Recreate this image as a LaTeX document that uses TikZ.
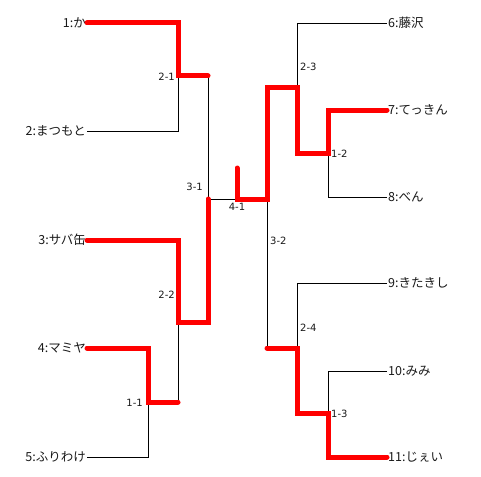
\documentclass[tikz,border=0pt]{standalone}
\usepackage{fontspec}
\setmainfont{Noto Sans CJK JP}
\newfontfamily\numfont{DejaVu Sans}
\usetikzlibrary{calc}

\begin{document}
\begin{tikzpicture}[x=1pt,y=-1pt,
  player/.style={inner sep=1pt,text=black!90,font=\fontsize{12.5}{14}\selectfont},
  round/.style={inner sep=0pt,text=black!90,font=\numfont\fontsize{10}{11}\selectfont},
  bline/.style={line width=0.8pt},
  win/.style={red,line width=5pt,line cap=round}]
  \useasboundingbox (0,0) rectangle (481,476);
  % players
  \foreach \n/\y/\t in {1/23/1:か,2/131/2:まつもと,3/240/3:サバ缶,4/348/4:マミヤ,5/457/5:ふりわけ}
    \node[player,anchor=east] (p\n) at (87,\y) {\t};
  \foreach \n/\y/\t in {6/23/6:藤沢,7/110/7:てっきん,8/197/8:べん,9/283/9:きたきし,10/371/10:みみ,11/457/11:じぇい}
    \node[player,anchor=west] (p\n) at (387,\y) {\t};
  % match points
  \coordinate (m11) at (148,402);
  \coordinate (m21) at (178,76);
  \coordinate (m22) at (178,322);
  \coordinate (m31) at (208,199);
  \coordinate (m41) at (237,199);
  \coordinate (m32) at (267,199);
  \coordinate (m23) at (297,88);
  \coordinate (m24) at (297,348);
  \coordinate (m12) at (328,153);
  \coordinate (m13) at (328,413);
  \coordinate (top) at (237,168);
  % round labels
  \node[round,anchor=east] (r11) at (143,403) {1-1};
  \node[round,anchor=east] (r21) at (175,77) {2-1};
  \node[round,anchor=east] (r22) at (175,295) {2-2};
  \node[round,anchor=east] (r31) at (203,187) {3-1};
  \node[round] (r41) at (237,207) {4-1};
  \node[round,anchor=west] (r32) at (270,241) {3-2};
  \node[round,anchor=west] (r23) at (300,67) {2-3};
  \node[round,anchor=west] (r24) at (300,328) {2-4};
  \node[round,anchor=west] (r12) at (331,154) {1-2};
  \node[round,anchor=west] (r13) at (331,414) {1-3};
  % bracket
  \draw[bline] (p1.east) -| (m21) (p2.east) -| (m21) (m21) -| (m31);
  \draw[bline] (p4.east) -| (m11) (p5.east) -| (m11) (m11) -| (m22);
  \draw[bline] (p3.east) -| (m22) (m22) -| (m31) -- (m32);
  \draw[bline] (p7.west) -| (m12) (p8.west) -| (m12) (m12) -| (m23);
  \draw[bline] (p6.west) -| (m23) (m23) -| (m32);
  \draw[bline] (p10.west) -| (m13) (p11.west) -| (m13) (m13) -| (m24);
  \draw[bline] (p9.west) -| (m24) (m24) -| (m32);
  % winners
  \draw[win] (p1.east) -| (m21) -- (m21 -| m31);
  \draw[win] (p4.east) -| (m11) -- (m11 -| m22);
  \draw[win] (p3.east) -| (m22) -| (m31);
  \draw[win] (top) -- (m41) -- (m32) |- (m23) |- (m12) |- (p7.west);
  \draw[win] (p11.west) -| (m13) -| (m24) -- (m24 -| m32);
\end{tikzpicture}
\end{document}
